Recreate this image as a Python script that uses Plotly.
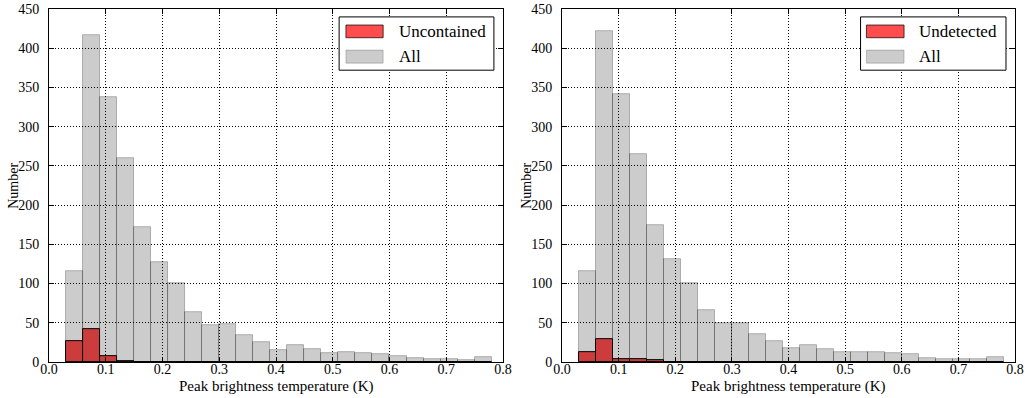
import plotly.graph_objects as go

# Histogram bins (K)
bin_start = 0.03
bin_width = 0.03
n_bins = 25
bin_centers = [round(bin_start + bin_width * (i + 0.5), 3) for i in range(n_bins)]

# Left panel
left_all = [116, 417, 338, 260, 172, 127, 100, 64, 47, 48, 34, 25, 15, 21, 17,
            11, 12, 11, 10, 8, 5, 3, 3, 2, 6]
left_uncontained = [26, 42, 7, 1, 0, 0, 0, 0, 0, 0, 0, 0, 0, 0, 0,
                    0, 0, 0, 0, 0, 0, 0, 0, 0, 0]

# Right panel
right_all = [116, 422, 342, 265, 174, 131, 101, 66, 50, 49, 36, 26, 18, 22, 17,
             12, 12, 12, 11, 10, 5, 4, 4, 3, 6]
right_undetected = [13, 29, 4, 4, 2, 0, 0, 0, 0, 0, 0, 0, 0, 0, 0,
                    0, 0, 0, 0, 0, 0, 0, 0, 0, 0]

x_ticks = [0.0, 0.1, 0.2, 0.3, 0.4, 0.5, 0.6, 0.7, 0.8]
y_ticks = [0, 50, 100, 150, 200, 250, 300, 350, 400, 450]

x_label = "Peak brightness temperature (K)"
y_label = "Number"

FONT = "Liberation Serif"
RED = "rgba(255,0,0,0.7)"
GRAY = "rgba(0,0,0,0.2)"

fig = go.Figure()

panels = [
    ("x", "y", left_uncontained, left_all, "Uncontained"),
    ("x2", "y2", right_undetected, right_all, "Undetected"),
]

for xa, ya, red_vals, all_vals, name in panels:
    fig.add_trace(go.Bar(
        x=bin_centers, y=red_vals, width=bin_width, xaxis=xa, yaxis=ya,
        marker=dict(color=RED, line=dict(color="black", width=1)),
        name=name, showlegend=False))
    fig.add_trace(go.Bar(
        x=bin_centers, y=all_vals, width=bin_width, xaxis=xa, yaxis=ya,
        marker=dict(color=GRAY, line=dict(color="rgba(0,0,0,0.25)", width=1)),
        name="All", showlegend=False))

axis_common = dict(
    showline=True, linecolor="black", linewidth=1, mirror="ticks",
    ticks="inside", ticklen=5, tickcolor="black",
    showgrid=True, gridcolor="black", griddash="1px,2px", gridwidth=1,
    zeroline=False, automargin=False,
    tickfont=dict(family=FONT, size=14, color="black"),
)

fig.update_layout(
    width=1028, height=398,
    margin=dict(l=0, r=0, t=0, b=0),
    paper_bgcolor="white", plot_bgcolor="white",
    barmode="overlay", bargap=0,
    font=dict(family=FONT, color="black"),
    xaxis=dict(domain=[0.0477, 0.4893], range=[0, 0.8], tickvals=x_ticks,
               tickformat=".1f", anchor="y", ticklabelstandoff=-6, **axis_common),
    yaxis=dict(domain=[0.0905, 0.977], range=[0, 450], tickvals=y_ticks,
               anchor="x", ticklabelstandoff=6, **axis_common),
    xaxis2=dict(domain=[0.5467, 0.9874], range=[0, 0.8], tickvals=x_ticks,
                tickformat=".1f", anchor="y2", ticklabelstandoff=-6, **axis_common),
    yaxis2=dict(domain=[0.0905, 0.977], range=[0, 450], tickvals=y_ticks,
                anchor="x2", ticklabelstandoff=6, **axis_common),
)

# Axis titles as annotations for exact placement
for xr, yr in (("x domain", "y domain"), ("x2 domain", "y2 domain")):
    fig.add_annotation(xref=xr, yref="paper", x=0.5, y=0.028, text=x_label,
                       showarrow=False, xanchor="center", yanchor="middle",
                       font=dict(family=FONT, size=15, color="black"))
    fig.add_annotation(xref=xr, yref=yr, x=-0.079, y=0.5, text=y_label,
                       textangle=-90, showarrow=False, xanchor="center", yanchor="middle",
                       font=dict(family=FONT, size=14, color="black"))

# Custom legends (matplotlib style wide swatches)
legends = [
    ("x domain", "y domain", 0.639, 0.980, 0.654, 0.736, 0.767, "Uncontained"),
    ("x2 domain", "y2 domain", 0.659, 0.980, 0.672, 0.755, 0.784, "Undetected"),
]
for xr, yr, bx0, bx1, sx0, sx1, tx, label in legends:
    fig.add_shape(type="rect", xref=xr, yref=yr, x0=bx0, x1=bx1, y0=0.827, y1=0.978,
                  line=dict(color="black", width=1), fillcolor="white", layer="above")
    fig.add_shape(type="rect", xref=xr, yref=yr, x0=sx0, x1=sx1, y0=0.919, y1=0.955,
                  line=dict(color="rgba(0,0,0,0.7)", width=1), fillcolor=RED, layer="above")
    fig.add_shape(type="rect", xref=xr, yref=yr, x0=sx0, x1=sx1, y0=0.847, y1=0.884,
                  line=dict(color="rgba(0,0,0,0.2)", width=1), fillcolor=GRAY, layer="above")
    fig.add_annotation(xref=xr, yref=yr, x=tx, y=0.938, text=label, showarrow=False,
                       xanchor="left", yanchor="middle",
                       font=dict(family=FONT, size=17, color="black"))
    fig.add_annotation(xref=xr, yref=yr, x=tx, y=0.867, text="All", showarrow=False,
                       xanchor="left", yanchor="middle",
                       font=dict(family=FONT, size=17, color="black"))

fig.write_html("out.html")
